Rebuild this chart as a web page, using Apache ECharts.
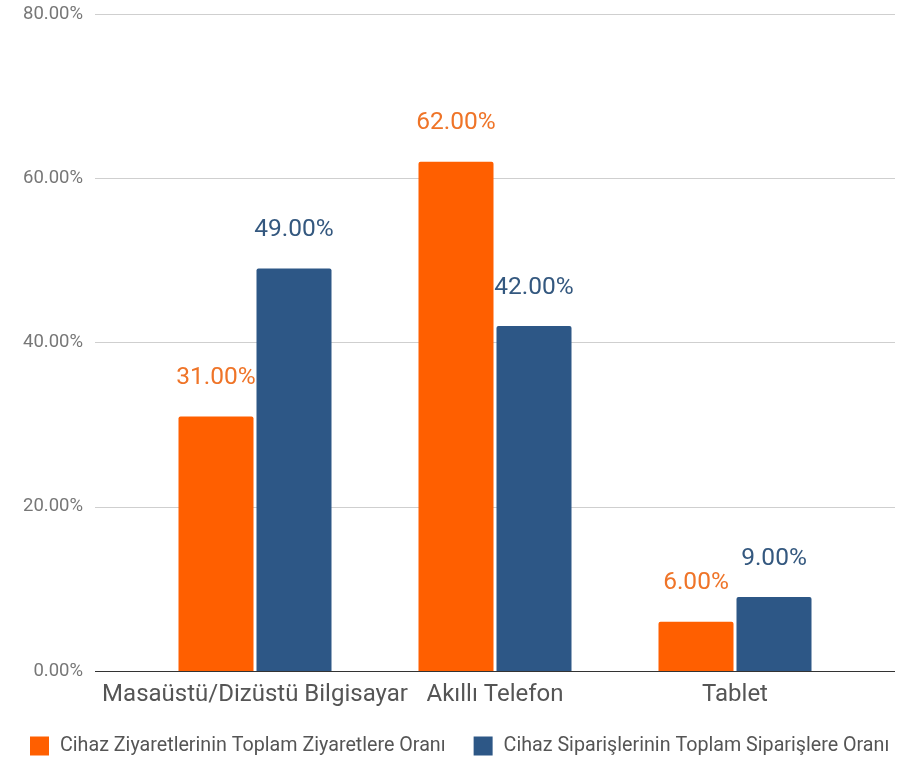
<!DOCTYPE html>
<html>
<head>
<meta charset="utf-8">
<script src="https://cdn.jsdelivr.net/npm/echarts@6/dist/echarts.min.js"></script>
<style>
  html, body { margin: 0; padding: 0; background: #fff; }
  #chart { width: 900px; height: 758px; }
</style>
</head>
<body>
<div id="chart"></div>
<script>
// Device categories and the two share series (percent)
const categories = ['Masaüstü/Dizüstü Bilgisayar', 'Akıllı Telefon', 'Tablet'];
const visitShare = [31, 62, 6];
const orderShare = [49, 42, 9];
const seriesNames = [
  'Cihaz Ziyaretlerinin Toplam Ziyaretlere Oranı',
  'Cihaz Siparişlerinin Toplam Siparişlere Oranı'
];
const yMin = 0, yMax = 80, yStep = 20;

const ORANGE = '#ff5f00';
const BLUE = '#2d5786';
const FONT = 'Roboto, "Noto Sans", sans-serif';

const pct = v => v.toFixed(2) + '%';

const chart = echarts.init(document.getElementById('chart'), null, { renderer: 'canvas' });

chart.setOption({
  backgroundColor: '#fff',
  textStyle: { fontFamily: FONT },
  animation: false,
  grid: [
    // full-width grid carrying the value axis and gridlines
    { left: 95, right: 5, top: 14, bottom: 87 },
    // narrower grid holding the bars and category labels
    { left: 135, right: 45, top: 14, bottom: 87 }
  ],
  legend: {
    top: 731,
    left: 25,
    padding: 5,
    itemWidth: 19,
    itemHeight: 19,
    itemGap: 28,
    icon: 'rect',
    textStyle: { fontSize: 19.7, color: '#555', fontFamily: FONT, padding: [0, 0, 0, 6] },
    data: seriesNames
  },
  xAxis: [
    { gridIndex: 0, type: 'category', data: categories, show: false },
    {
      gridIndex: 1, type: 'category', data: categories,
      axisLine: { show: false },
      axisTick: { show: false },
      axisLabel: { fontSize: 24, color: '#555', margin: 12, fontFamily: FONT, interval: 0 }
    }
  ],
  yAxis: [
    {
      gridIndex: 0, type: 'value', min: yMin, max: yMax, interval: yStep,
      axisLine: { show: false },
      axisTick: { show: false },
      axisLabel: {
        fontSize: 18.5, color: '#777', margin: 12, fontFamily: FONT,
        formatter: v => pct(v)
      },
      splitLine: {
        show: true,
        lineStyle: {
          color: ['#333', '#cfcfcf', '#cfcfcf', '#cfcfcf', '#cfcfcf'],
          width: 1
        }
      }
    },
    {
      gridIndex: 1, type: 'value', min: yMin, max: yMax, interval: yStep, show: false,
      splitLine: { show: false }
    }
  ],
  series: [
    {
      name: seriesNames[0], type: 'bar', xAxisIndex: 1, yAxisIndex: 1,
      data: visitShare, barWidth: 75, barGap: '4%',
      itemStyle: { color: ORANGE, borderRadius: [2, 2, 0, 0] },
      label: {
        show: true, position: 'top', distance: 26,
        color: '#ef7428', fontSize: 24.5, fontFamily: FONT,
        formatter: p => pct(p.value)
      },
      z: 3
    },
    {
      name: seriesNames[1], type: 'bar', xAxisIndex: 1, yAxisIndex: 1,
      data: orderShare, barWidth: 75,
      itemStyle: { color: BLUE, borderRadius: [2, 2, 0, 0] },
      label: {
        show: true, position: 'top', distance: 26,
        color: '#34587f', fontSize: 24.5, fontFamily: FONT,
        formatter: p => pct(p.value)
      },
      z: 3
    }
  ]
});
</script>
</body>
</html>
